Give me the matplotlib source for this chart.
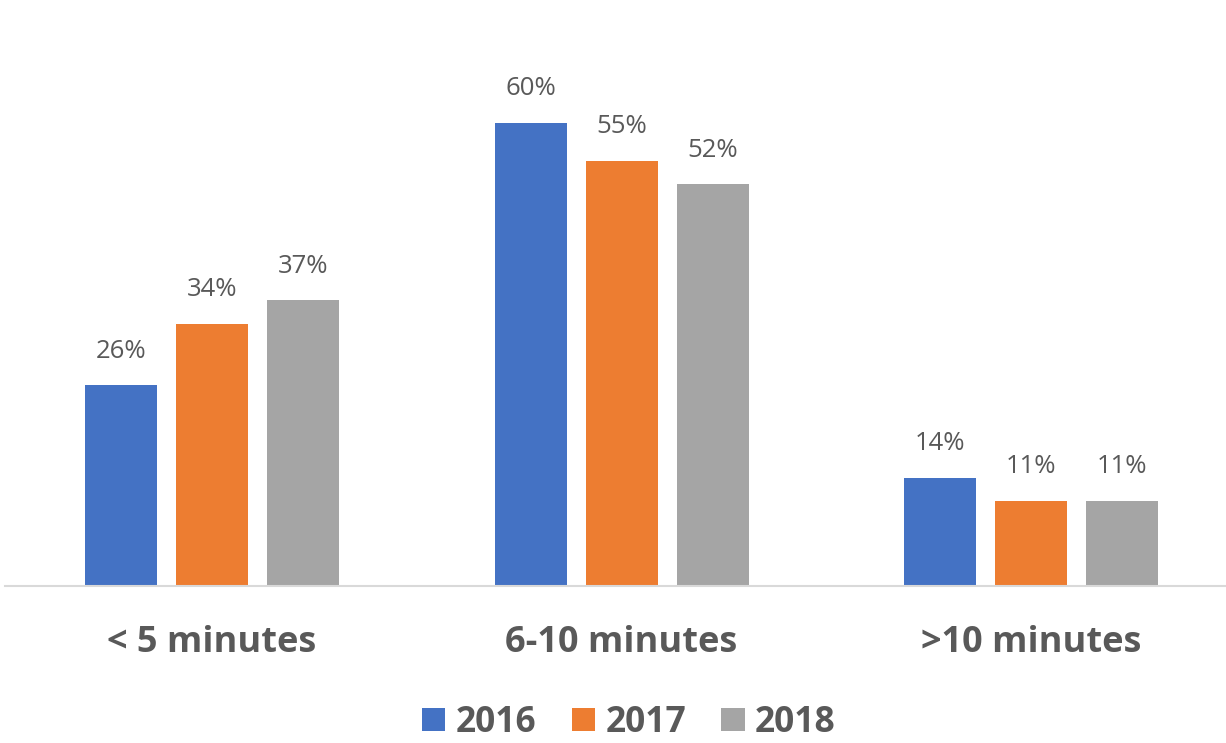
import matplotlib
matplotlib.use("Agg")
import matplotlib.pyplot as plt
import numpy as np

# chart data
categories = ["< 5 minutes", "6-10 minutes", ">10 minutes"]
years = ["2016", "2017", "2018"]
values_2016 = [26, 60, 14]
values_2017 = [34, 55, 11]
values_2018 = [37, 52, 11]
colors = ["#4472C4", "#ED7D31", "#A5A5A5"]

plt.rcParams['font.family'] = ['Open Sans', 'DejaVu Sans']

fig = plt.figure(figsize=(12.26, 7.43), dpi=100)
ax = fig.add_axes([0.004, 0.211, 0.996, 0.728])

x = np.arange(len(categories))
step = 0.222
width = 0.176
series = [values_2016, values_2017, values_2018]
for i, (vals, year, col) in enumerate(zip(series, years, colors)):
    bars = ax.bar(x + (i - 1) * step, vals, width, color=col, label=year)
    for b, v in zip(bars, vals):
        ax.annotate(f"{v}%", (b.get_x() + b.get_width() / 2, v),
                    xytext=(0, 20), textcoords="offset points",
                    ha="center", va="baseline", fontsize=18.5,
                    color="#595959")

ax.set_xlim(-0.505, 2.475)
ax.set_ylim(0, 70)
ax.set_yticks([])
ax.set_xticks(x)
ax.set_xticklabels(categories, fontsize=26, fontweight="bold", color="#595959")
ax.tick_params(axis="x", length=0, pad=28)
for s in ["top", "right", "left"]:
    ax.spines[s].set_visible(False)
ax.spines["bottom"].set_color("#D9D9D9")
ax.spines["bottom"].set_linewidth(1.5)

leg = fig.legend(loc="center", bbox_to_anchor=(0.513, 0.027), ncol=3, frameon=False,
                 fontsize=25.5, handlelength=0.65, handleheight=0.65, handletextpad=0.3,
                 columnspacing=1.0, borderpad=0.2)
for t in leg.get_texts():
    t.set_color("#595959")
    t.set_fontweight("bold")

fig.savefig("out.png", dpi=100)
